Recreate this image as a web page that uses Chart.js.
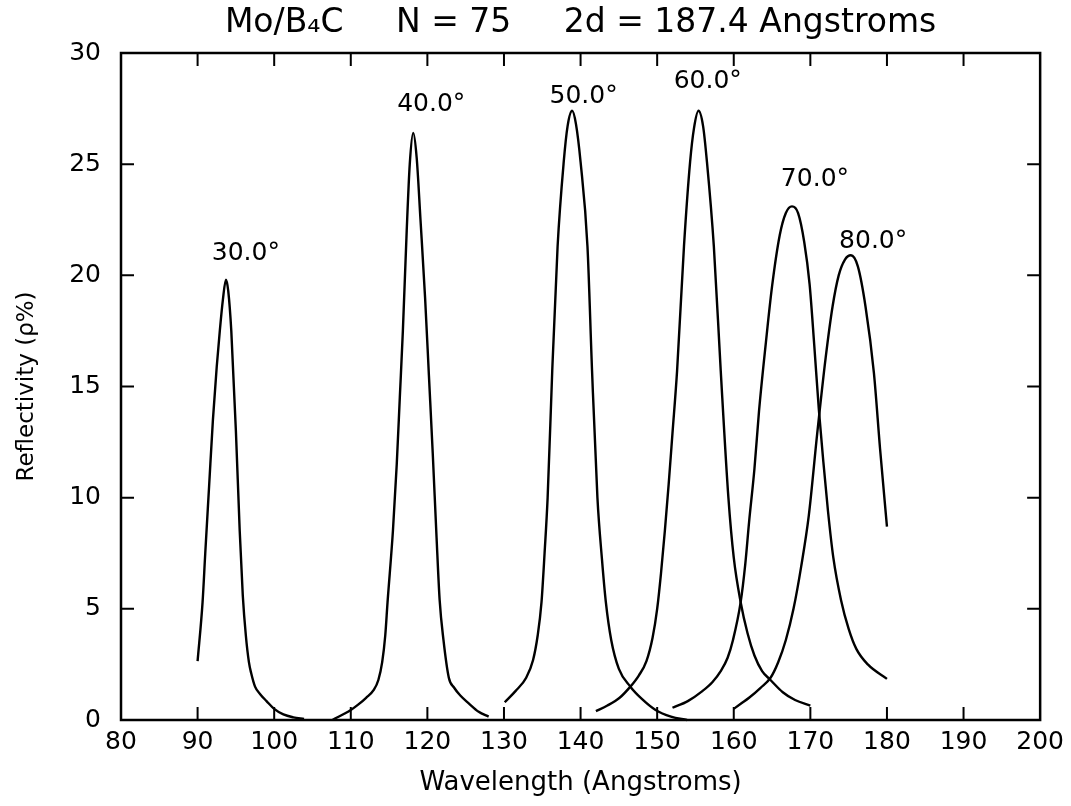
<!DOCTYPE html>
<html>
<head>
<meta charset="utf-8">
<script src="https://cdn.jsdelivr.net/npm/chart.js@4/dist/chart.umd.min.js"></script>
<style>
  html, body { margin: 0; padding: 0; background: #fff; }
  #wrap { width: 1071px; height: 806px; }
</style>
</head>
<body>
<div id="wrap"><canvas id="c" width="1071" height="806"></canvas></div>
<script>
// ---- data (wavelength in Angstroms, reflectivity in %) ----
const wl30 = [90.0, 90.65, 91.0, 91.5, 92.0, 92.5, 92.9, 93.3, 93.7, 94.0, 94.4, 95.0, 95.5, 95.9, 96.3, 96.7, 97.0, 97.5, 98.2, 99.0, 100.0, 101.2, 102.5, 103.9];
const r30  = [2.65, 5.3, 7.5, 10.5, 13.5, 15.9, 17.5, 18.9, 19.8, 19.3, 17.5, 13.0, 8.5, 5.6, 3.8, 2.6, 2.1, 1.5, 1.15, 0.85, 0.5, 0.25, 0.12, 0.05];

const wl40 = [107.6, 110.0, 111.0, 112.0, 113.0, 113.6, 114.1, 114.5, 114.8, 115.5, 116.0, 116.4, 116.8, 117.3, 117.7, 118.15, 118.6, 119.1, 119.7, 120.2, 120.7, 121.2, 121.6, 122.1, 122.8, 123.5, 124.3, 125.4, 126.7, 128.0];
const r40  = [0.0, 0.45, 0.7, 1.0, 1.35, 1.8, 2.6, 3.8, 5.3, 8.5, 11.5, 14.5, 17.5, 22.0, 25.0, 26.4, 25.3, 22.5, 19.0, 15.5, 12.0, 8.2, 5.4, 3.6, 1.9, 1.45, 1.1, 0.75, 0.37, 0.15];

const wl50 = [130.1, 131.5, 132.9, 133.8, 134.4, 134.9, 135.3, 135.7, 136.3, 137.0, 137.8, 138.3, 138.9, 139.4, 140.0, 140.9, 141.5, 142.2, 142.8, 143.3, 144.0, 145.0, 146.5, 148.0, 149.8, 151.8, 153.9];
const r50  = [0.8, 1.3, 1.9, 2.7, 3.8, 5.3, 7.5, 10.0, 15.7, 21.3, 25.1, 26.7, 27.4, 26.8, 25.1, 21.3, 15.7, 10.0, 7.2, 5.3, 3.6, 2.3, 1.5, 0.95, 0.45, 0.15, 0.0];

const wl60 = [142.0, 143.5, 145.1, 146.5, 147.6, 148.6, 149.4, 150.0, 150.5, 151.0, 151.5, 152.0, 152.6, 153.5, 154.3, 154.8, 155.4, 156.0, 156.5, 157.4, 158.3, 159.3, 160.0, 160.9, 161.8, 162.7, 163.7, 164.8, 166.4, 168.0, 170.0];
const r60  = [0.4, 0.65, 1.0, 1.5, 2.0, 2.65, 3.7, 5.0, 6.6, 8.5, 10.6, 12.9, 15.7, 21.3, 25.1, 26.6, 27.4, 26.7, 25.1, 21.3, 15.7, 10.0, 7.3, 5.3, 3.9, 2.9, 2.2, 1.8, 1.25, 0.9, 0.65];

const wl70 = [152.0, 154.0, 155.9, 157.2, 158.3, 159.2, 159.9, 160.9, 161.5, 162.0, 162.7, 163.3, 164.2, 165.0, 166.0, 166.8, 167.6, 168.4, 169.2, 169.9, 170.5, 171.1, 171.7, 172.3, 173.0, 174.0, 175.0, 176.0, 177.5, 180.0];
const r70  = [0.55, 0.85, 1.3, 1.7, 2.2, 2.8, 3.6, 5.3, 7.0, 8.9, 11.3, 13.9, 17.0, 19.5, 21.8, 22.8, 23.1, 22.8, 21.5, 19.6, 16.9, 14.0, 11.6, 9.4, 7.3, 5.4, 4.1, 3.2, 2.5, 1.85];

const wl80 = [160.0, 161.0, 162.0, 163.5, 164.8, 165.8, 166.8, 167.8, 168.8, 169.8, 170.9, 172.0, 172.9, 173.7, 174.5, 175.3, 176.2, 177.2, 178.3, 179.1, 180.0];
const r80  = [0.5, 0.75, 1.0, 1.45, 1.9, 2.6, 3.6, 5.0, 6.9, 9.2, 12.9, 16.3, 18.6, 20.0, 20.7, 20.9, 20.4, 18.6, 15.6, 12.2, 8.7];

const angleLabels = ['30.0°', '40.0°', '50.0°', '60.0°', '70.0°', '80.0°'];
const labelX = [96.3, 120.5, 140.4, 156.6, 170.6, 178.2];
const labelY = [21.0, 27.7, 28.06, 28.7, 24.3, 21.5];

const xMin = 80, xMax = 200, xStep = 10;
const yMin = 0, yMax = 30, yStep = 5;

const titleText = 'Mo/B\u2084C     N = 75     2d = 187.4 Angstroms';
const xTitle = 'Wavelength (Angstroms)';
const yTitle = 'Reflectivity (\u03C1%)';

// ---- helpers ----
function pts(xs, ys) { return xs.map((x, i) => ({ x: x, y: ys[i] })); }
const series = [[wl30, r30], [wl40, r40], [wl50, r50], [wl60, r60], [wl70, r70], [wl80, r80]];

const FONT = "'DejaVu Sans', 'Liberation Sans', sans-serif";

const framePlugin = {
  id: 'frame',
  afterDatasetsDraw(chart) {
    const ctx = chart.ctx;
    const a = chart.chartArea;
    const xs = chart.scales.x, ys = chart.scales.y;
    const L = 13;
    ctx.save();
    ctx.strokeStyle = '#000';
    ctx.lineWidth = 2.5;
    ctx.strokeRect(a.left, a.top, a.right - a.left, a.bottom - a.top);
    ctx.beginPath();
    xs.ticks.forEach(t => {
      if (t.value <= xMin || t.value >= xMax) return;
      const p = xs.getPixelForValue(t.value);
      ctx.moveTo(p, a.bottom); ctx.lineTo(p, a.bottom - L);
      ctx.moveTo(p, a.top); ctx.lineTo(p, a.top + L);
    });
    ys.ticks.forEach(t => {
      if (t.value <= yMin || t.value >= yMax) return;
      const p = ys.getPixelForValue(t.value);
      ctx.moveTo(a.left, p); ctx.lineTo(a.left + L, p);
      ctx.moveTo(a.right, p); ctx.lineTo(a.right - L, p);
    });
    ctx.lineWidth = 2;
    ctx.stroke();
    // peak labels
    ctx.fillStyle = '#000';
    ctx.font = '25px ' + FONT;
    ctx.textAlign = 'center';
    ctx.textBaseline = 'middle';
    angleLabels.forEach((s, i) => {
      ctx.fillText(s, xs.getPixelForValue(labelX[i]), ys.getPixelForValue(labelY[i]));
    });
    ctx.restore();
  }
};

new Chart(document.getElementById('c'), {
  type: 'scatter',
  data: {
    datasets: series.map((s, i) => ({
      label: angleLabels[i],
      data: pts(s[0], s[1]),
      showLine: true,
      borderColor: '#000',
      backgroundColor: '#000',
      borderWidth: 2.4,
      pointRadius: 0,
      cubicInterpolationMode: 'monotone',
      clip: false
    }))
  },
  options: {
    responsive: false,
    animation: false,
    devicePixelRatio: 1,
    layout: { padding: { left: 0, right: 30, top: 0, bottom: 0 } },
    plugins: {
      legend: { display: false },
      tooltip: { enabled: false },
      title: {
        display: true,
        text: titleText,
        fullSize: false,
        color: '#000',
        font: { family: FONT, size: 33, weight: 'normal', lineHeight: 1.1 },
        padding: { top: 5, bottom: 11.7 }
      }
    },
    scales: {
      x: {
        type: 'linear',
        min: xMin, max: xMax,
        afterFit(scale) { scale.height = 86; },
        ticks: {
          stepSize: xStep,
          color: '#000',
          padding: 7,
          maxRotation: 0,
          font: { family: FONT, size: 25 }
        },
        grid: { display: false, drawTicks: false },
        border: { display: false },
        title: {
          display: true,
          text: xTitle,
          color: '#000',
          font: { family: FONT, size: 26 },
          padding: { top: 0, bottom: 7 }
        }
      },
      y: {
        type: 'linear',
        min: yMin, max: yMax,
        afterFit(scale) { scale.width = 121; },
        ticks: {
          stepSize: yStep,
          color: '#000',
          padding: 20,
          font: { family: FONT, size: 25 }
        },
        grid: { display: false, drawTicks: false },
        border: { display: false },
        title: {
          display: true,
          text: yTitle,
          color: '#000',
          font: { family: FONT, size: 23 },
          padding: { top: 13, bottom: 0 }
        }
      }
    }
  },
  plugins: [framePlugin]
});
</script>
</body>
</html>
